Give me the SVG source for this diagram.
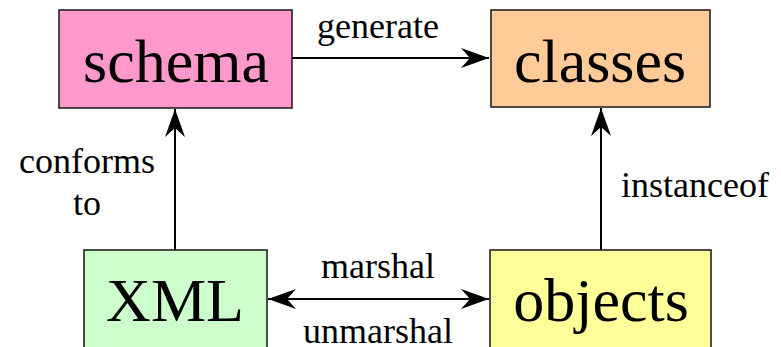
<svg xmlns="http://www.w3.org/2000/svg" width="781" height="347" viewBox="0 0 781 347">
<style>
.box{stroke:#222;stroke-width:1.6}
.node{font-family:"Liberation Serif","Times New Roman",serif;font-size:62px;fill:#000;text-anchor:middle}
.lbl{font-family:"Liberation Serif","Times New Roman",serif;font-size:36px;fill:#000}
.edge{stroke:#000;stroke-width:2;fill:none}
</style>
<defs>
<marker id="ah" markerUnits="userSpaceOnUse" markerWidth="30" markerHeight="22" viewBox="-29 -11 30 22" refX="0" refY="0" orient="auto-start-reverse">
<path d="M0,0 L-28,-10 L-19,0 L-28,10 Z" fill="#000"/>
</marker>
</defs>
<rect width="781" height="347" fill="#fff"/>
<g id="connectors">
<line class="edge" x1="292" y1="58" x2="489" y2="58" marker-end="url(#ah)"/>
<line class="edge" x1="175" y1="250" x2="175" y2="109" marker-end="url(#ah)"/>
<line class="edge" x1="601" y1="250" x2="601" y2="108" marker-end="url(#ah)"/>
<line class="edge" x1="268" y1="299" x2="489" y2="299" marker-start="url(#ah)" marker-end="url(#ah)"/>
<text class="lbl" x="378" y="38" text-anchor="middle">generate</text>
<text class="lbl" x="87" y="173" text-anchor="middle">conforms</text>
<text class="lbl" x="87" y="215" text-anchor="middle">to</text>
<text class="lbl" x="621" y="197">instanceof</text>
<text class="lbl" x="378" y="278" text-anchor="middle">marshal</text>
<text class="lbl" x="378" y="343" text-anchor="middle">unmarshal</text>
</g>
<g id="schema">
<rect class="box" x="59" y="10" width="233" height="98" fill="#ff99cc"/>
<text class="node" x="176" y="82">schema</text>
</g>
<g id="classes">
<rect class="box" x="491" y="10" width="219" height="97" fill="#ffcc99"/>
<text class="node" x="600" y="82">classes</text>
</g>
<g id="XML">
<rect class="box" x="84" y="250" width="183" height="110" fill="#ccffcc"/>
<text class="node" x="175" y="321">XML</text>
</g>
<g id="objects">
<rect class="box" x="490" y="250" width="221" height="110" fill="#ffff99"/>
<text class="node" x="601" y="321">objects</text>
</g>
</svg>
